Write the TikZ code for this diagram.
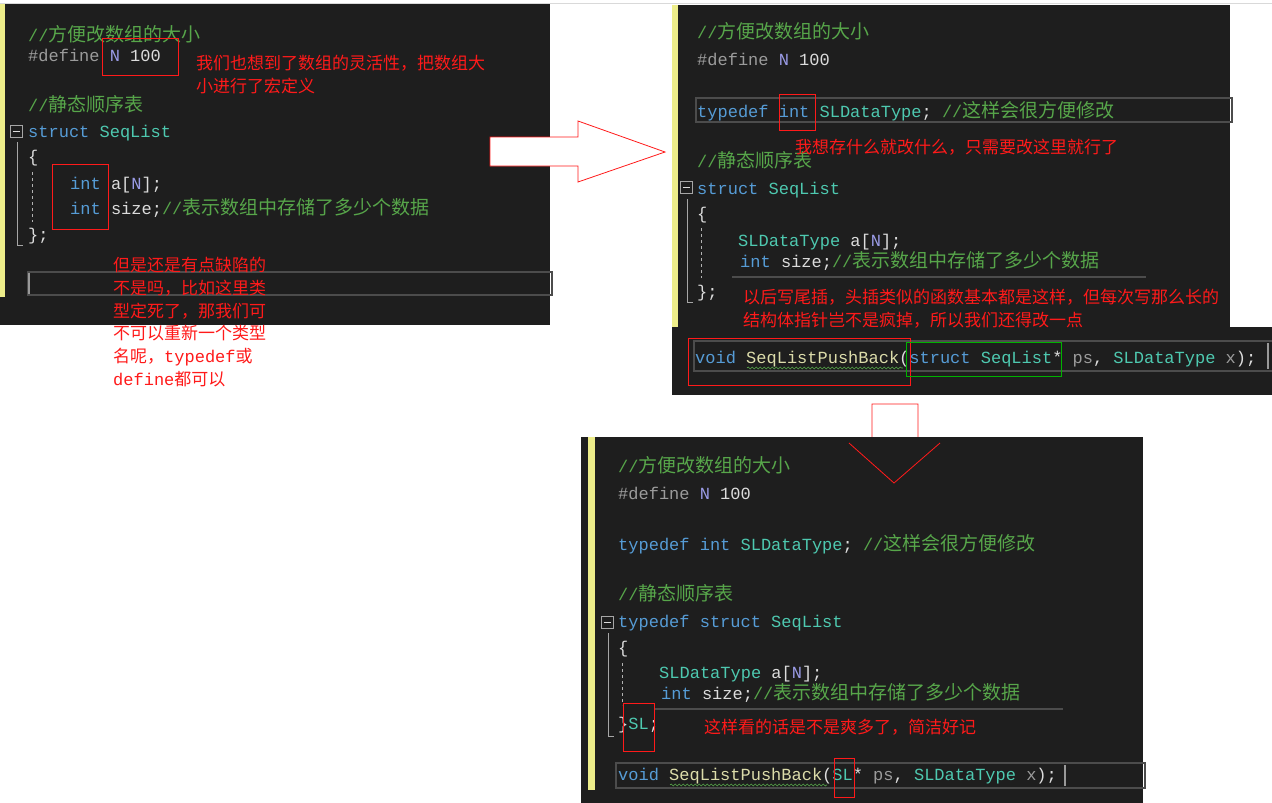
\documentclass[tikz,border=0pt]{standalone}
\usepackage{fontspec}
\usetikzlibrary{decorations.pathmorphing}
\setmainfont{Liberation Mono}
\newfontfamily\cjkf{Noto Sans CJK SC}
\definecolor{bg}{HTML}{1E1E1E}
\definecolor{cmt}{HTML}{57A64A}
\definecolor{kw}{HTML}{569CD6}
\definecolor{ty}{HTML}{4EC9B0}
\definecolor{tx}{HTML}{DCDCDC}
\definecolor{mac}{HTML}{9A9BE6}
\definecolor{pre}{HTML}{9B9B9B}
\definecolor{fn}{HTML}{DCDCAA}
\definecolor{ylw}{HTML}{EDED8A}
\definecolor{ann}{HTML}{FF1A1A}
\newcommand\zh[1]{{\cjkf\fontsize{19}{19}\selectfont #1}}
\newcommand\C[1]{\textcolor{cmt}{//\zh{#1}}}
\newcommand\K[1]{\textcolor{kw}{#1}}
\newcommand\T[1]{\textcolor{ty}{#1}}
\newcommand\Nm{\textcolor{mac}{N}}
\newcommand\Def{\textcolor{pre}{\#define} \Nm{} 100}
\tikzset{
  code/.style={anchor=base west,inner sep=0,text=tx,font=\fontsize{17}{17}\selectfont},
  note/.style={anchor=base west,inner sep=0,text=ann,align=left,font=\cjkf\fontsize{17}{22.8}\selectfont},
  notes/.style={note,anchor=north west},
  redbox/.style={draw=ann,line width=0.8pt},
  greenbox/.style={draw=green!70!black,line width=0.8pt},
  linebox/.style={draw=gray!60!black,line width=2pt},
  fold/.style={draw=gray!70,line width=1pt},
  arr/.style={draw=ann,line width=0.8pt,fill=white},
  squig/.style={draw=cmt,line width=0.6pt,decorate,decoration={snake,amplitude=1pt,segment length=4pt}}
}
\begin{document}
\begin{tikzpicture}[x=1pt,y=-1pt]
\useasboundingbox (0,0) rectangle (1272,803);
\fill[white] (0,0) rectangle (1272,803);
\draw[gray!30,line width=1pt] (0,3) -- (1272,3);
% ---------- panel 1
\fill[bg] (0,4) rectangle (550,325);
\fill[ylw] (0,4) rectangle (5,297);
\draw[linebox] (28,272) rectangle (552,295);
\draw[gray!80,line width=1.5pt] (29,273) -- (29,294);
\node[code] (p1a) at (28,41) {\C{方便改数组的大小}};
\node[code] (p1b) at (28,61) {\Def};
\node[code] (p1c) at (28,111) {\C{静态顺序表}};
\draw[fold,fill=bg] (10,125) rectangle (22,137); \draw[tx] (12.5,131) -- (19.5,131);
\node[code] (p1d) at (28,137) {\K{struct} \T{SeqList}};
\draw[fold] (17,142) -- (17,245) -- (23,245);
\node[code] (p1e) at (28,162) {\textcolor{tx}{\{}};
\draw[gray!60,dashed,line width=1pt] (32,172) -- (32,222);
\node[code] (p1f) at (70,189) {\K{int} a\textcolor{tx}{[}\Nm\textcolor{tx}{]};};
\node[code] (p1g) at (70,214) {\K{int} size;\C{表示数组中存储了多少个数据}};
\node[code] (p1h) at (28,240) {\};};
\draw[redbox] (102,38) rectangle (178,75);
\draw[redbox] (52,164) rectangle (108,229);
\node[notes] (n1) at (196,55) {我们也想到了数组的灵活性，把数组大\\小进行了宏定义};
\node[notes] (n2) at (113,257) {但是还是有点缺陷的\\不是吗，比如这里类\\型定死了，那我们可\\不可以重新一个类型\\名呢，{\rmfamily typedef}或\\{\rmfamily define}都可以};
% ---------- arrow 1
\draw[arr] (490,137) -- (578,137) -- (578,121) -- (665,152) -- (578,182) -- (578,166) -- (490,166) -- cycle;
% ---------- panel 2
\fill[bg] (672,5) rectangle (1230,327);
\fill[bg] (672,327) rectangle (1272,395);
\fill[ylw] (672,5) rectangle (678,327);
\node[code] (p2a) at (697,38) {\C{方便改数组的大小}};
\node[code] (p2b) at (697,65) {\Def};
\draw[linebox] (696,98) rectangle (1232,122);
\node[code] (p2c) at (697,117) {\K{typedef} \K{int} \T{SLDataType}; \C{这样会很方便修改}};
\draw[redbox] (779,94) rectangle (815,130);
\node[code] (p2d) at (697,167) {\C{静态顺序表}};
\draw[fold,fill=bg] (680,181) rectangle (692,193); \draw[tx] (682.5,187) -- (689.5,187);
\node[code] (p2e) at (697,194) {\K{struct} \T{SeqList}};
\draw[fold] (687,199) -- (687,302) -- (693,302);
\node[code] (p2f) at (697,219) {\{};
\draw[gray!60,dashed,line width=1pt] (701,228) -- (701,278);
\node[code] (p2g) at (738,246) {\T{SLDataType} a\textcolor{tx}{[}\Nm\textcolor{tx}{]};};
\node[code] (p2h) at (740,267) {\K{int} size;\C{表示数组中存储了多少个数据}};
\draw[gray!60!black,line width=2pt] (732,277) -- (1146,277);
\node[code] (p2i) at (697,297) {\};};
\node[note] (n3) at (795,153) {我想存什么就改什么，只需要改这里就行了};
\node[notes] (n4) at (743,289) {以后写尾插，头插类似的函数基本都是这样，但每次写那么长的\\结构体指针岂不是疯掉，所以我们还得改一点};
\draw[linebox] (694,341) rectangle (1274,371);
\draw[gray!80,line width=1.5pt] (1268,343) -- (1268,369);
\node[code] (p2j) at (695,363) {\K{void} \textcolor{fn}{SeqListPushBack}(\K{struct} \T{SeqList}* \textcolor{pre}{ps}, \T{SLDataType} \textcolor{pre}{x});};
\draw[squig] (747,368) -- (903,368);
\draw[redbox] (688,338) rectangle (910,385);
\draw[greenbox] (906,342) rectangle (1061,376);
% ---------- arrow 2
\draw[arr] (872,404) -- (918,404) -- (918,443) -- (940,443) -- (894,483) -- (849,443) -- (872,443) -- cycle;
% ---------- panel 3
\fill[bg] (581,437) rectangle (1143,803);
\fill[ylw] (588,437) rectangle (595,790);
\draw[arr,fill=none] (849,443) -- (894,483) -- (940,443);
\node[code] (p3a) at (618,472) {\C{方便改数组的大小}};
\node[code] (p3b) at (618,499) {\Def};
\node[code] (p3c) at (618,550) {\K{typedef} \K{int} \T{SLDataType}; \C{这样会很方便修改}};
\node[code] (p3d) at (618,600) {\C{静态顺序表}};
\draw[fold,fill=bg] (601,616) rectangle (613,628); \draw[tx] (603.5,622) -- (610.5,622);
\node[code] (p3e) at (618,627) {\K{typedef} \K{struct} \T{SeqList}};
\draw[fold] (608,633) -- (608,736) -- (614,736);
\node[code] (p3f) at (618,653) {\{};
\draw[gray!60,dashed,line width=1pt] (622,663) -- (622,705);
\node[code] (p3g) at (659,678) {\T{SLDataType} a\textcolor{tx}{[}\Nm\textcolor{tx}{]};};
\node[code] (p3h) at (661,699) {\K{int} size;\C{表示数组中存储了多少个数据}};
\draw[gray!60!black,line width=2pt] (654,709) -- (1063,709);
\node[code] (p3i) at (618,729) {\}\T{SL};};
\draw[redbox] (623,703) rectangle (654,751);
\node[note] (n5) at (704,733) {这样看的话是不是爽多了，简洁好记};
\draw[linebox] (616,763) rectangle (1145,788);
\draw[gray!80,line width=1.5pt] (1065,765) -- (1065,786);
\node[code] (p3j) at (618,780) {\K{void} \textcolor{fn}{SeqListPushBack}(\T{SL}* \textcolor{pre}{ps}, \T{SLDataType} \textcolor{pre}{x});};
\draw[squig] (670,785) -- (827,785);
\draw[redbox] (834,758) rectangle (854,797);
\end{tikzpicture}
\end{document}
